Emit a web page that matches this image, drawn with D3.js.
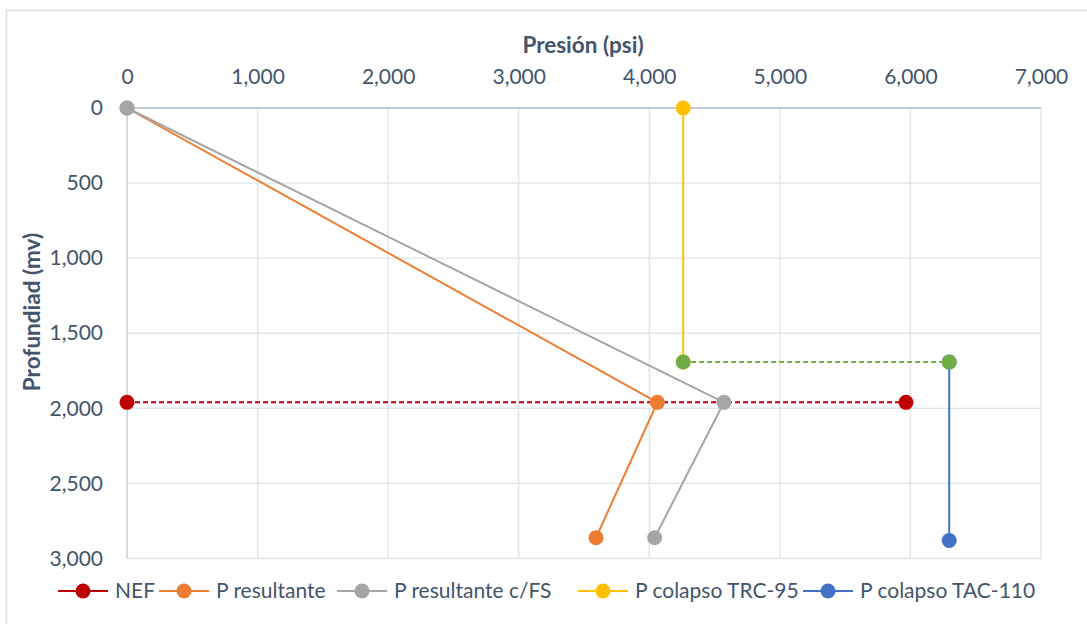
<!DOCTYPE html>
<html><head><meta charset="utf-8">
<script src="https://cdn.jsdelivr.net/npm/d3@7"></script>
<style>
html,body{margin:0;padding:0;background:#fff;}
text{font-family:Lato,"Open Sans",sans-serif;}
</style></head>
<body><svg id="c" width="1087" height="624"></svg>
<script>
// Data (x = Presión psi, y = Profundidad mv)
const xTicks = [0,1000,2000,3000,4000,5000,6000,7000];
const yTicks = [0,500,1000,1500,2000,2500,3000];
const nefP = [0,5966];            const nefD = [1960,1960];
const presP = [0,4062,3592];      const presD = [0,1960,2862];
const presFsP = [0,4572,4041];    const presFsD = [0,1960,2862];
const trcP = [4260,4260];         const trcD = [0,1691];
const tacP = [6297,6297];         const tacD = [1691,2880];
const linkP = [4260,6297];        const linkD = [1691,1691];

const series = [
  {name:"NEF", p:nefP, d:nefD, color:"#c00000", dash:"5,3", legend:true},
  {name:"P resultante", p:presP, d:presD, color:"#ed7d31", dash:null, legend:true},
  {name:"P resultante c/FS", p:presFsP, d:presFsD, color:"#a5a5a5", dash:null, legend:true},
  {name:"P colapso TRC-95", p:trcP, d:trcD, color:"#ffc000", dash:null, legend:true},
  {name:"P colapso TAC-110", p:tacP, d:tacD, color:"#4472c4", dash:null, legend:true},
  {name:"link", p:linkP, d:linkD, color:"#70ad47", dash:"5,3", legend:false}
];

const svg = d3.select("#c");
const textCol = "#44546a";
svg.append("rect").attr("x",6.5).attr("y",10.5).attr("width",1100).attr("height",700)
  .attr("fill","none").attr("stroke","#d9dde4").attr("stroke-width",1.5);

const x = d3.scaleLinear().domain([0,7000]).range([127,1041]);
const y = d3.scaleLinear().domain([0,3000]).range([108,558.5]);

const g = svg.append("g");
g.selectAll(".vg").data(xTicks).join("line")
  .attr("x1",d=>x(d)).attr("x2",d=>x(d)).attr("y1",y(0)).attr("y2",y(3000))
  .attr("stroke","#dfe3ea").attr("stroke-width",1.3);
g.selectAll(".hg").data(yTicks).join("line")
  .attr("x1",x(0)).attr("x2",x(7000)).attr("y1",d=>y(d)).attr("y2",d=>y(d))
  .attr("stroke","#dfe3ea").attr("stroke-width",1.3);
g.append("line").attr("x1",x(0)).attr("x2",x(7000)).attr("y1",y(0)).attr("y2",y(0))
  .attr("stroke","#b4bfd1").attr("stroke-width",1.3);
g.append("line").attr("x1",x(0)).attr("x2",x(0)).attr("y1",y(0)).attr("y2",y(3000))
  .attr("stroke","#c9d1de").attr("stroke-width",1.3);

const fmt = d3.format(",");
const ax = svg.append("g").attr("transform",`translate(0,${y(0)-21})`)
  .call(d3.axisTop(x).tickValues(xTicks).tickFormat(fmt).tickSize(0));
ax.select(".domain").remove();
ax.selectAll("text").attr("fill",textCol).style("font-size","21px").style("font-family","Lato");
const ay = svg.append("g").attr("transform",`translate(${x(0)-21},0)`)
  .call(d3.axisLeft(y).tickValues(yTicks).tickFormat(fmt).tickSize(0));
ay.select(".domain").remove();
ay.selectAll("text").attr("fill",textCol).style("font-size","21px").style("font-family","Lato");

svg.append("text").attr("x",583).attr("y",53).attr("text-anchor","middle")
  .attr("fill",textCol).style("font-size","22.5px").style("font-weight","bold").text("Presión (psi)");
svg.append("text").attr("transform","translate(40,312) rotate(-90)").attr("text-anchor","middle")
  .attr("fill",textCol).style("font-size","22.5px").style("font-weight","bold").text("Profundiad (mv)");

const line = d3.line().x(d=>x(d[0])).y(d=>y(d[1]));
series.forEach(s=>{
  const pts = s.p.map((v,k)=>[v,s.d[k]]);
  const gs = svg.append("g");
  gs.append("path").datum(pts).attr("d",line).attr("fill","none")
    .attr("stroke",s.color).attr("stroke-width",2).attr("stroke-dasharray",s.dash);
  gs.selectAll("circle").data(pts).join("circle")
    .attr("cx",d=>x(d[0])).attr("cy",d=>y(d[1])).attr("r",7.5).attr("fill",s.color);
});

const legX = [58,159,337,578,803];
const lg = svg.append("g");
series.filter(s=>s.legend).forEach((s,i)=>{
  const lx = legX[i], ly = 591;
  lg.append("line").attr("x1",lx).attr("x2",lx+50).attr("y1",ly).attr("y2",ly)
    .attr("stroke",s.color).attr("stroke-width",2);
  lg.append("circle").attr("cx",lx+25).attr("cy",ly).attr("r",7.5).attr("fill",s.color);
  lg.append("text").attr("x",lx+57).attr("y",ly).attr("dy","0.35em")
    .attr("fill",textCol).style("font-size","21px").text(s.name);
});
</script></body></html>
